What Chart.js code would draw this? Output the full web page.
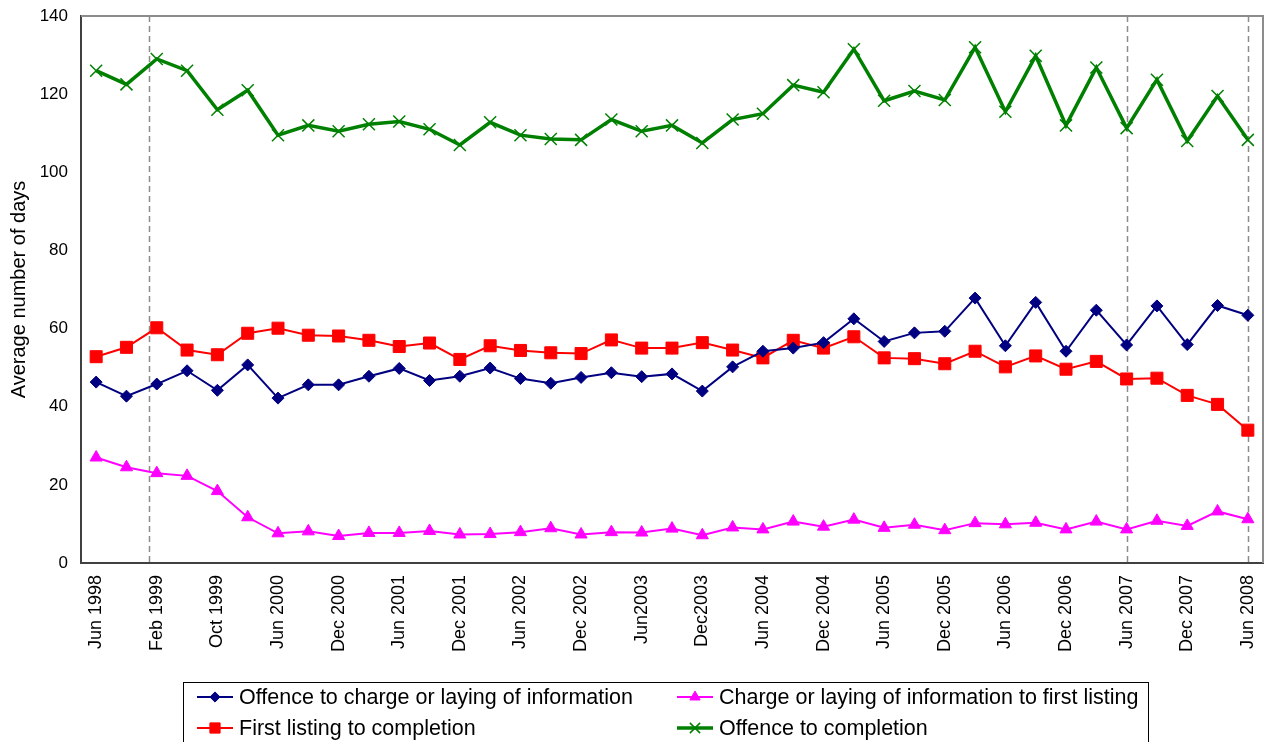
<!DOCTYPE html>
<html>
<head>
<meta charset="utf-8">
<script src="https://cdn.jsdelivr.net/npm/chart.js@4.4.1/dist/chart.umd.min.js"></script>
<style>
  html, body { margin: 0; padding: 0; background: #fff; }
  #wrap { width: 1266px; height: 742px; position: relative; }
</style>
</head>
<body>
<div id="wrap"><canvas id="chart"></canvas></div>
<script>
// x categories (only every other point is labelled on the axis)
const periods = [
  "Jun 1998", "", "Feb 1999", "", "Oct 1999", "", "Jun 2000", "", "Dec 2000", "",
  "Jun 2001", "", "Dec 2001", "", "Jun 2002", "", "Dec 2002", "", "Jun2003", "",
  "Dec2003", "", "Jun 2004", "", "Dec 2004", "", "Jun 2005", "", "Dec 2005", "",
  "Jun 2006", "", "Dec 2006", "", "Jun 2007", "", "Dec 2007", "", "Jun 2008"
];

const offenceToCharge = [
  46.3, 42.7, 45.8, 49.2, 44.2, 50.7, 42.2, 45.6, 45.6, 47.8,
  49.8, 46.7, 47.8, 49.9, 47.2, 46.0, 47.5, 48.7, 47.7, 48.4,
  44.0, 50.2, 54.2, 55.0, 56.4, 62.5, 56.7, 58.9, 59.3, 67.8,
  55.6, 66.7, 54.2, 64.7, 55.8, 65.8, 55.9, 65.9, 63.4
];

const chargeToFirstListing = [
  27.0, 24.5, 23.0, 22.3, 18.4, 11.7, 7.6, 8.1, 6.9, 7.7,
  7.7, 8.2, 7.3, 7.4, 7.9, 8.9, 7.3, 7.9, 7.8, 8.8,
  7.1, 9.1, 8.6, 10.6, 9.3, 11.1, 9.0, 9.8, 8.4, 10.2,
  9.9, 10.3, 8.6, 10.6, 8.6, 10.8, 9.5, 13.2, 11.2
];

const firstListingToCompletion = [
  52.8, 55.2, 60.2, 54.5, 53.3, 58.8, 60.1, 58.3, 58.1, 57.0,
  55.4, 56.3, 52.1, 55.6, 54.4, 53.8, 53.6, 57.1, 55.0, 55.0,
  56.4, 54.5, 52.5, 57.0, 55.0, 57.9, 52.5, 52.3, 51.0, 54.2,
  50.2, 53.0, 49.6, 51.6, 47.1, 47.3, 42.9, 40.6, 34.0
];

const offenceToCompletion = [
  126.0, 122.5, 129.0, 126.0, 116.0, 121.0, 109.5, 112.0, 110.5, 112.3,
  113.0, 111.0, 107.0, 112.8, 109.5, 108.5, 108.3, 113.5, 110.5, 112.0,
  107.5, 113.5, 115.0, 122.3, 120.5, 131.5, 118.3, 120.8, 118.5, 132.0,
  115.5, 129.8, 112.0, 126.8, 111.3, 123.7, 108.0, 119.5, 108.3
];

// category positions of the dashed vertical markers
const markerPositions = [1.75, 34, 38];

const FONT = '"Liberation Sans", Arial, sans-serif';

// plot area frame + dashed markers
const framePlugin = {
  id: "frame",
  beforeDatasetsDraw(chart) {
    const { ctx, chartArea: a, scales } = chart;
    ctx.save();
    ctx.strokeStyle = "#8c8c8c";
    ctx.lineWidth = 2;
    ctx.beginPath();
    ctx.moveTo(a.left, a.top);
    ctx.lineTo(a.right, a.top);
    ctx.lineTo(a.right, a.bottom);
    ctx.stroke();

    ctx.lineWidth = 1.5;
    ctx.setLineDash([6, 4]);
    markerPositions.forEach((p) => {
      const x = Math.round(scales.x.getPixelForValue(p)) + 0.5;
      ctx.beginPath();
      ctx.moveTo(x, a.top);
      ctx.lineTo(x, a.bottom);
      ctx.stroke();
    });
    ctx.restore();
  },
};

// boxed two-column legend under the chart
const boxLegend = {
  id: "boxLegend",
  afterDraw(chart) {
    const ctx = chart.ctx;
    const cols = [197, 677];
    const rows = [697, 728];
    ctx.save();
    ctx.strokeStyle = "#000";
    ctx.lineWidth = 1;
    ctx.strokeRect(183.5, 682.5, 965, 62);
    chart.data.datasets.forEach((ds, i) => {
      const x = cols[i % 2];
      const y = rows[Math.floor(i / 2)];
      ctx.strokeStyle = ds.borderColor;
      ctx.lineWidth = ds.borderWidth;
      ctx.beginPath();
      ctx.moveTo(x, y);
      ctx.lineTo(x + 36, y);
      ctx.stroke();
      ctx.fillStyle = ds.pointBackgroundColor;
      ctx.strokeStyle = ds.pointBorderColor;
      ctx.lineWidth = ds.pointBorderWidth;
      Chart.helpers.drawPoint(ctx, {
        pointStyle: ds.pointStyle,
        radius: ds.pointRadius * 0.85,
        rotation: 0,
        borderWidth: ds.pointBorderWidth,
      }, x + 18, y);
      ctx.fillStyle = "#000";
      ctx.font = "21.5px " + FONT;
      ctx.textBaseline = "middle";
      ctx.fillText(ds.label, x + 42, y + 1);
    });
    ctx.restore();
  },
};

new Chart(document.getElementById("chart"), {
  type: "line",
  data: {
    labels: periods,
    datasets: [
      {
        label: "Offence to charge or laying of information",
        data: offenceToCharge,
        borderColor: "#000080",
        backgroundColor: "#000080",
        borderWidth: 2,
        pointStyle: "rectRot",
        pointRadius: 6,
        pointBackgroundColor: "#000080",
        pointBorderColor: "#000080",
        pointBorderWidth: 1,
      },
      {
        label: "Charge or laying of information to first listing",
        data: chargeToFirstListing,
        borderColor: "#ff00ff",
        backgroundColor: "#ff00ff",
        borderWidth: 2,
        pointStyle: "triangle",
        pointRadius: 7,
        pointBackgroundColor: "#ff00ff",
        pointBorderColor: "#ff00ff",
        pointBorderWidth: 1,
      },
      {
        label: "First listing to completion",
        data: firstListingToCompletion,
        borderColor: "#ff0000",
        backgroundColor: "#ff0000",
        borderWidth: 2,
        pointStyle: "rect",
        pointRadius: 8.5,
        pointBackgroundColor: "#ff0000",
        pointBorderColor: "#ff0000",
        pointBorderWidth: 1,
      },
      {
        label: "Offence to completion",
        data: offenceToCompletion,
        borderColor: "#008000",
        backgroundColor: "#008000",
        borderWidth: 3.5,
        pointStyle: "crossRot",
        pointRadius: 8.5,
        pointBackgroundColor: "#008000",
        pointBorderColor: "#008000",
        pointBorderWidth: 1.5,
      },
    ],
  },
  options: {
    responsive: true,
    maintainAspectRatio: false,
    animation: false,
    layout: {
      autoPadding: false,
      padding: { top: 16, right: 3, left: 0, bottom: 0 },
    },
    plugins: {
      legend: { display: false },
      tooltip: { enabled: false },
    },
    elements: { line: { tension: 0 } },
    scales: {
      x: {
        type: "category",
        offset: true,
        grid: { display: false, drawTicks: false },
        border: { display: true, color: "#404040", width: 2 },
        ticks: {
          autoSkip: false,
          minRotation: 90,
          maxRotation: 90,
          padding: 12,
          color: "#000",
          font: { family: FONT, size: 18 },
        },
        afterFit(scale) {
          scale.height = 179;
          scale.paddingLeft = 0;
          scale.paddingRight = 0;
        },
      },
      y: {
        min: 0,
        max: 140,
        grid: { display: false, drawTicks: false },
        border: { display: true, color: "#404040", width: 2 },
        ticks: {
          stepSize: 20,
          padding: 13,
          color: "#000",
          font: { family: FONT, size: 17 },
        },
        title: {
          display: true,
          text: "Average number of days",
          color: "#000",
          font: { family: FONT, size: 20 },
          padding: { top: 7, bottom: 0 },
        },
        afterFit(scale) {
          scale.width = 81;
          scale.paddingTop = 0;
          scale.paddingBottom = 0;
        },
      },
    },
  },
  plugins: [framePlugin, boxLegend],
});
</script>
</body>
</html>
